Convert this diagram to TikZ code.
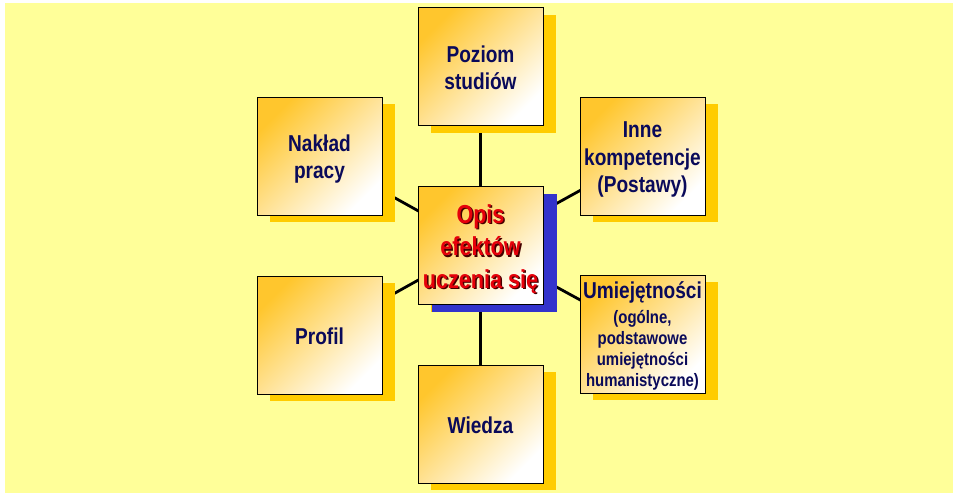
\documentclass[tikz,border=0pt]{standalone}
\usepackage{fontspec}
\newfontfamily\labfont{Liberation Sans}[FakeStretch=0.83]
\usetikzlibrary{shadows}
\pgfdeclarelayer{bottom}
\pgfdeclarelayer{links}
\pgfsetlayers{bottom,links,main}
\definecolor{bgyellow}{RGB}{255,255,153}
\definecolor{boxorange}{RGB}{255,198,45}
\definecolor{goldshadow}{RGB}{255,204,0}
\definecolor{blueshadow}{RGB}{51,51,204}
\definecolor{navytext}{RGB}{10,10,90}
\definecolor{opisred}{RGB}{230,0,10}
\definecolor{opisdark}{RGB}{70,0,0}
\newcommand\boxlines[2][2pt]{\raisebox{-#1}[\height][\depth]{\begin{tabular}{@{}c@{}}#2\end{tabular}}}
\tikzset{
  box/.style={draw=black, line width=0.9pt, minimum width=125pt, minimum height=118pt,
    inner sep=0pt, top color=boxorange, bottom color=white, shading angle=45,
    text=navytext, font=\labfont\bfseries\fontsize{23}{27.8}\selectfont,
    drop shadow={shadow xshift=13pt, shadow yshift=-7pt, fill=goldshadow, opacity=1}},
  bluebox/.style={box, drop shadow={shadow xshift=14pt, shadow yshift=-7pt, fill=blueshadow, opacity=1}},
  link/.style={draw=black, line width=2.8pt},
  opistext/.style={align=center, font=\labfont\bfseries\fontsize{26}{32.5}\selectfont, inner sep=0pt}
}
\begin{document}
\begin{tikzpicture}[x=1pt,y=-1pt]
\useasboundingbox (0,0) rectangle (960,493);
\begin{pgfonlayer}{bottom}
\fill[white] (0,0) rectangle (960,493);
\fill[bgyellow] (5,3) rectangle (953,493);
\end{pgfonlayer}
\node[box] (poziom) at (480.5,66.5) {\boxlines[4pt]{Poziom\\studiów}};
\node[box] (naklad) at (319.5,156) {\boxlines[3.5pt]{Nakład\\pracy}};
\node[box] (profil) at (319.5,335) {\boxlines[4pt]{Profil}};
\node[box] (wiedza) at (480.5,424) {\boxlines[4pt]{Wiedza}};
\node[box] (inne) at (642.5,156) {\boxlines[3.5pt]{Inne\\kompetencje\\(Postawy)}};
\node[box, font=\labfont\bfseries\fontsize{18}{21}\selectfont] (umiej) at (642.5,334)
  {\boxlines[3pt]{\fontsize{23}{27}\selectfont Umiejętności\\[4.5pt](ogólne,\\podstawowe\\umiejętności\\humanistyczne)}};
\node[bluebox] (opis) at (480.5,245.5) {};
\node[opistext, text=opisdark] (opissh) at ([shift={(1.5pt,-5pt)}]opis.center) {Opis\\efektów\\uczenia się};
\node[opistext, text=opisred] (opistxt) at ([yshift=-3.5pt]opis.center) {Opis\\efektów\\uczenia się};
\begin{pgfonlayer}{links}
\draw[link] (opis.center) -- (poziom.center);
\draw[link] (opis.center) -- (wiedza.center);
\draw[link] (opis.center) -- (naklad.center);
\draw[link] (opis.center) -- (profil.center);
\draw[link] (opis.center) -- (inne.center);
\draw[link] (opis.center) -- (umiej.center);
\end{pgfonlayer}
\end{tikzpicture}
\end{document}
